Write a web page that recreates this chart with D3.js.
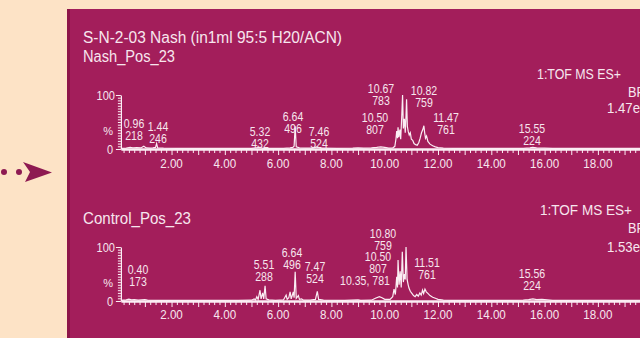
<!DOCTYPE html>
<html>
<head>
<meta charset="utf-8">
<script src="https://cdn.jsdelivr.net/npm/d3@7"></script>
<style>
  html, body { margin: 0; padding: 0; background: #fde3c6; }
  svg { display: block; }
  text { font-family: "Liberation Sans Narrow", "Arial Narrow", "Liberation Sans", sans-serif; fill: #f7e6ee; }
</style>
</head>
<body>
<svg id="chart" width="640" height="338"></svg>
<script>
// Base peak intensity chromatograms, retention time (min) vs relative intensity (%)
const nashTrace = [
  [0.10, 1], [0.30, 1.5], [0.45, 3], [0.55, 2], [0.70, 2.5], [0.85, 2], [0.96, 5], [1.05, 2],
  [1.20, 1.5], [1.30, 2], [1.40, 3], [1.44, 10], [1.48, 2], [1.70, 1.5], [2.20, 1], [3.00, 1],
  [4.00, 1], [5.00, 1], [5.32, 3], [5.45, 1], [6.20, 1], [6.45, 2], [6.55, 3], [6.60, 5],
  [6.64, 42], [6.68, 4], [6.80, 2], [7.00, 1.5], [7.30, 1.5], [7.46, 4], [7.60, 1.5], [8.20, 1],
  [8.80, 1.5], [9.00, 2], [9.20, 1.5], [9.50, 2], [9.70, 3], [9.85, 4], [10.00, 3], [10.15, 1.5],
  [10.30, 2], [10.38, 5], [10.42, 18], [10.45, 33], [10.48, 20], [10.50, 40], [10.53, 22],
  [10.57, 36], [10.60, 18], [10.64, 62], [10.67, 100], [10.70, 38], [10.74, 56], [10.77, 30],
  [10.80, 62], [10.82, 92], [10.85, 42], [10.88, 33], [10.92, 26], [10.96, 30], [11.00, 18],
  [11.05, 16], [11.10, 10], [11.16, 8], [11.22, 7], [11.28, 12], [11.33, 20], [11.38, 30],
  [11.43, 36], [11.47, 43], [11.50, 30], [11.53, 20], [11.57, 24], [11.62, 14], [11.70, 9],
  [11.80, 6], [11.90, 4], [12.00, 2.5], [12.20, 1.5], [12.60, 1], [13.50, 1], [14.50, 1],
  [15.20, 1], [15.45, 2], [15.55, 3], [15.70, 2], [16.00, 1.5], [16.30, 1], [17.50, 1],
  [19.00, 1], [20.00, 1]
];

const controlTrace = [
  [0.10, 1], [0.30, 2], [0.40, 3.5], [0.50, 2], [0.60, 2.5], [0.75, 1.5], [1.00, 2.5], [1.10, 1.5],
  [1.50, 1], [3.00, 1], [4.50, 1], [5.00, 1.5], [5.10, 4], [5.15, 2], [5.20, 8], [5.25, 3],
  [5.32, 20], [5.36, 4], [5.42, 15], [5.46, 4], [5.51, 28], [5.55, 4], [5.65, 2], [5.90, 1],
  [6.20, 2], [6.30, 11], [6.34, 3], [6.40, 6], [6.45, 17], [6.49, 4], [6.54, 12], [6.57, 17],
  [6.60, 6], [6.64, 54], [6.68, 5], [6.76, 10], [6.80, 3], [6.88, 4], [6.95, 1.5], [7.20, 1.5],
  [7.40, 3], [7.47, 18], [7.52, 3], [7.70, 1.5], [8.50, 1], [9.00, 2], [9.10, 1], [9.50, 1.5],
  [9.65, 5], [9.80, 8], [9.90, 6], [10.00, 3], [10.20, 3], [10.30, 8], [10.35, 22], [10.40, 12],
  [10.45, 45], [10.48, 25], [10.50, 76], [10.54, 30], [10.58, 55], [10.62, 25], [10.66, 91],
  [10.70, 35], [10.74, 50], [10.77, 40], [10.80, 100], [10.84, 40], [10.88, 30], [10.91, 24],
  [10.96, 18], [11.02, 14], [11.08, 10], [11.14, 8], [11.20, 12], [11.26, 9], [11.32, 15],
  [11.37, 11], [11.42, 20], [11.46, 14], [11.51, 22], [11.56, 17], [11.62, 14], [11.70, 10],
  [11.80, 7], [11.90, 5], [12.00, 3], [12.20, 1.5], [12.60, 1], [14.00, 1], [15.20, 1.5],
  [15.40, 2.5], [15.56, 4], [15.70, 2.5], [15.90, 3], [16.10, 2], [16.30, 1], [18.00, 1],
  [20.00, 1]
];

// Peak annotations: retention time and base peak m/z
const nashPeaks = [
  ["0.96", "218"], ["1.44", "246"], ["5.32", "432"], ["6.64", "496"], ["7.46", "524"],
  ["10.50", "807"], ["10.67", "783"], ["10.82", "759"], ["11.47", "761"], ["15.55", "224"]
];
const controlPeaks = [
  ["0.40", "173"], ["5.51", "288"], ["6.64", "496"], ["7.47", "524"], ["10.35", "781"],
  ["10.50", "807"], ["10.80", "759"], ["11.51", "761"], ["15.56", "224"]
];

const timeTicks = ["2.00", "4.00", "6.00", "8.00", "10.00", "12.00", "14.00", "16.00", "18.00"];

const panels = [
  { name: "Nash_Pos_23", trace: nashTrace, peaks: nashPeaks, func: "1:TOF MS ES+", type: "BPI", scaleMax: "1.47e4" },
  { name: "Control_Pos_23", trace: controlTrace, peaks: controlPeaks, func: "1:TOF MS ES+", type: "BPI", scaleMax: "1.53e4" }
];

// ---- layout ----
const layout = [
  { top: 95, bottom: 149, nameY: 62, nameW: 92, funcX: 537, funcY: 79, funcW: 84, typeY: 97, maxX: 607, maxY: 113, tickY: 168,
    labelPos: {
      "0.96": [134, 128], "1.44": [158, 131], "5.32": [260, 136], "6.64": [293, 121], "7.46": [319, 136],
      "10.50": [375, 122], "10.67": [381, 93], "10.82": [424, 95], "11.47": [446, 122], "15.55": [532, 133]
    } },
  { top: 247, bottom: 301, nameY: 224, nameW: 108, funcX: 540, funcY: 215, funcW: 92, typeY: 233, maxX: 607, maxY: 252, tickY: 319,
    labelPos: {
      "0.40": [138, 274], "5.51": [264, 269], "6.64": [292, 257], "7.47": [315, 271], "10.35": [365, 285],
      "10.50": [378, 261], "10.80": [383, 238], "11.51": [427, 267], "15.56": [532, 278]
    } }
];

const svg = d3.select("#chart");
const W = 640, H = 338;
const ink = "#fbeef4";

// squeeze a text element horizontally to a fraction of its natural width
function condense(sel, factor) {
  sel.each(function () {
    const w = this.getComputedTextLength();
    d3.select(this).attr("textLength", (w * factor).toFixed(1)).attr("lengthAdjust", "spacingAndGlyphs");
  });
  return sel;
}

// page background and panel
svg.append("rect").attr("width", W).attr("height", H).attr("fill", "#fde3c6");
svg.append("rect").attr("x", 67).attr("y", 9).attr("width", W - 67).attr("height", H - 9).attr("fill", "#a31e5b");
svg.append("rect").attr("x", 67).attr("y", 9).attr("width", 3).attr("height", H - 9).attr("fill", "#8d1549");

// pointer arrow on the left
const arrow = svg.append("g").attr("fill", "#8e1a52");
arrow.append("circle").attr("cx", 4).attr("cy", 172).attr("r", 3);
arrow.append("circle").attr("cx", 19).attr("cy", 172).attr("r", 3);
arrow.append("path").attr("d", "M23,162 L52,172.5 L25,182 L30,172 Z");

// sample title
svg.append("text").attr("x", 83).attr("y", 43).attr("font-size", 16)
  .attr("textLength", 259).attr("lengthAdjust", "spacingAndGlyphs")
  .text("S-N-2-03 Nash (in1ml 95:5 H20/ACN)");

const x = d3.scaleLinear().domain([0.1, 20]).range([120.9, 651.2]);

panels.forEach((p, i) => {
  const L = layout[i];
  const y = d3.scaleLinear().domain([0, 100]).range([L.bottom, L.top]);
  const g = svg.append("g");

  // trace
  g.append("path")
    .datum(p.trace)
    .attr("fill", "none")
    .attr("stroke", ink)
    .attr("stroke-width", 1.2)
    .attr("d", d3.line().x(d => x(d[0])).y(d => y(d[1])));

  // time axis: minor ticks every 0.2 min, longer ticks each minute
  const minor = d3.range(1, 100).map(k => k * 0.2).filter(v => Math.abs(v - Math.round(v)) > 1e-6);
  const major = d3.range(1, 21);
  const axMinor = g.append("g").attr("transform", `translate(0,${L.bottom})`)
    .call(d3.axisBottom(x).tickValues(minor).tickSize(4).tickSizeOuter(0).tickFormat(""));
  axMinor.select(".domain").attr("stroke", ink).attr("stroke-width", 2.5);
  axMinor.selectAll(".tick line").attr("stroke", ink).attr("stroke-width", 1);
  const axMajor = g.append("g").attr("transform", `translate(0,${L.bottom})`)
    .call(d3.axisBottom(x).tickValues(major).tickSize(6).tickSizeOuter(0).tickFormat(""));
  axMajor.select(".domain").remove();
  axMajor.selectAll(".tick line").attr("stroke", ink).attr("stroke-width", 1);

  condense(g.selectAll(".tlabel").data(timeTicks).join("text")
    .attr("class", "tlabel")
    .attr("x", d => x(+d))
    .attr("y", L.tickY)
    .attr("text-anchor", "middle")
    .attr("font-size", 13.5)
    .text(d => d), 0.86);

  // intensity axis
  const axY = g.append("g").attr("transform", `translate(${x(0.1)},0)`)
    .call(d3.axisLeft(y).tickValues(d3.range(5, 100, 5)).tickSize(3).tickSizeOuter(0).tickFormat(""));
  axY.select(".domain").attr("stroke", ink).attr("stroke-width", 1.2);
  axY.selectAll(".tick line").attr("stroke", ink);
  const axY2 = g.append("g").attr("transform", `translate(${x(0.1)},0)`)
    .call(d3.axisLeft(y).tickValues([0, 100]).tickSize(5).tickSizeOuter(0).tickFormat(""));
  axY2.select(".domain").remove();
  axY2.selectAll(".tick line").attr("stroke", ink);

  condense(g.append("text").attr("x", 115).attr("y", y(100) + 4.5).attr("text-anchor", "end").attr("font-size", 13).text("100"), 0.85);
  condense(g.append("text").attr("x", 113).attr("y", y(0) + 4.5).attr("text-anchor", "end").attr("font-size", 13).text("0"), 0.85);
  g.append("text").attr("x", 113).attr("y", y(33) + 4).attr("text-anchor", "end").attr("font-size", 11).text("%");

  // trace name and function info
  g.append("text").attr("x", 83).attr("y", L.nameY).attr("font-size", 16)
    .attr("textLength", L.nameW).attr("lengthAdjust", "spacingAndGlyphs").text(p.name);
  g.append("text").attr("x", L.funcX).attr("y", L.funcY).attr("font-size", 15)
    .attr("textLength", L.funcW).attr("lengthAdjust", "spacingAndGlyphs").text(p.func);
  condense(g.append("text").attr("x", 628).attr("y", L.typeY).attr("font-size", 15).text(p.type), 0.85);
  condense(g.append("text").attr("x", L.maxX).attr("y", L.maxY).attr("font-size", 15).text(p.scaleMax), 0.88);

  // peak labels: retention time over m/z
  p.peaks.forEach(([rt, mz]) => {
    const [lx, ly] = L.labelPos[rt];
    const lines = rt === "10.35" ? [`${rt}, ${mz}`] : [rt, mz];
    lines.forEach((s, k) => {
      condense(g.append("text").attr("x", lx).attr("y", ly + k * 12).attr("text-anchor", "middle")
        .attr("font-size", 13.5).text(s), 0.78);
    });
  });
});
</script>
</body>
</html>
